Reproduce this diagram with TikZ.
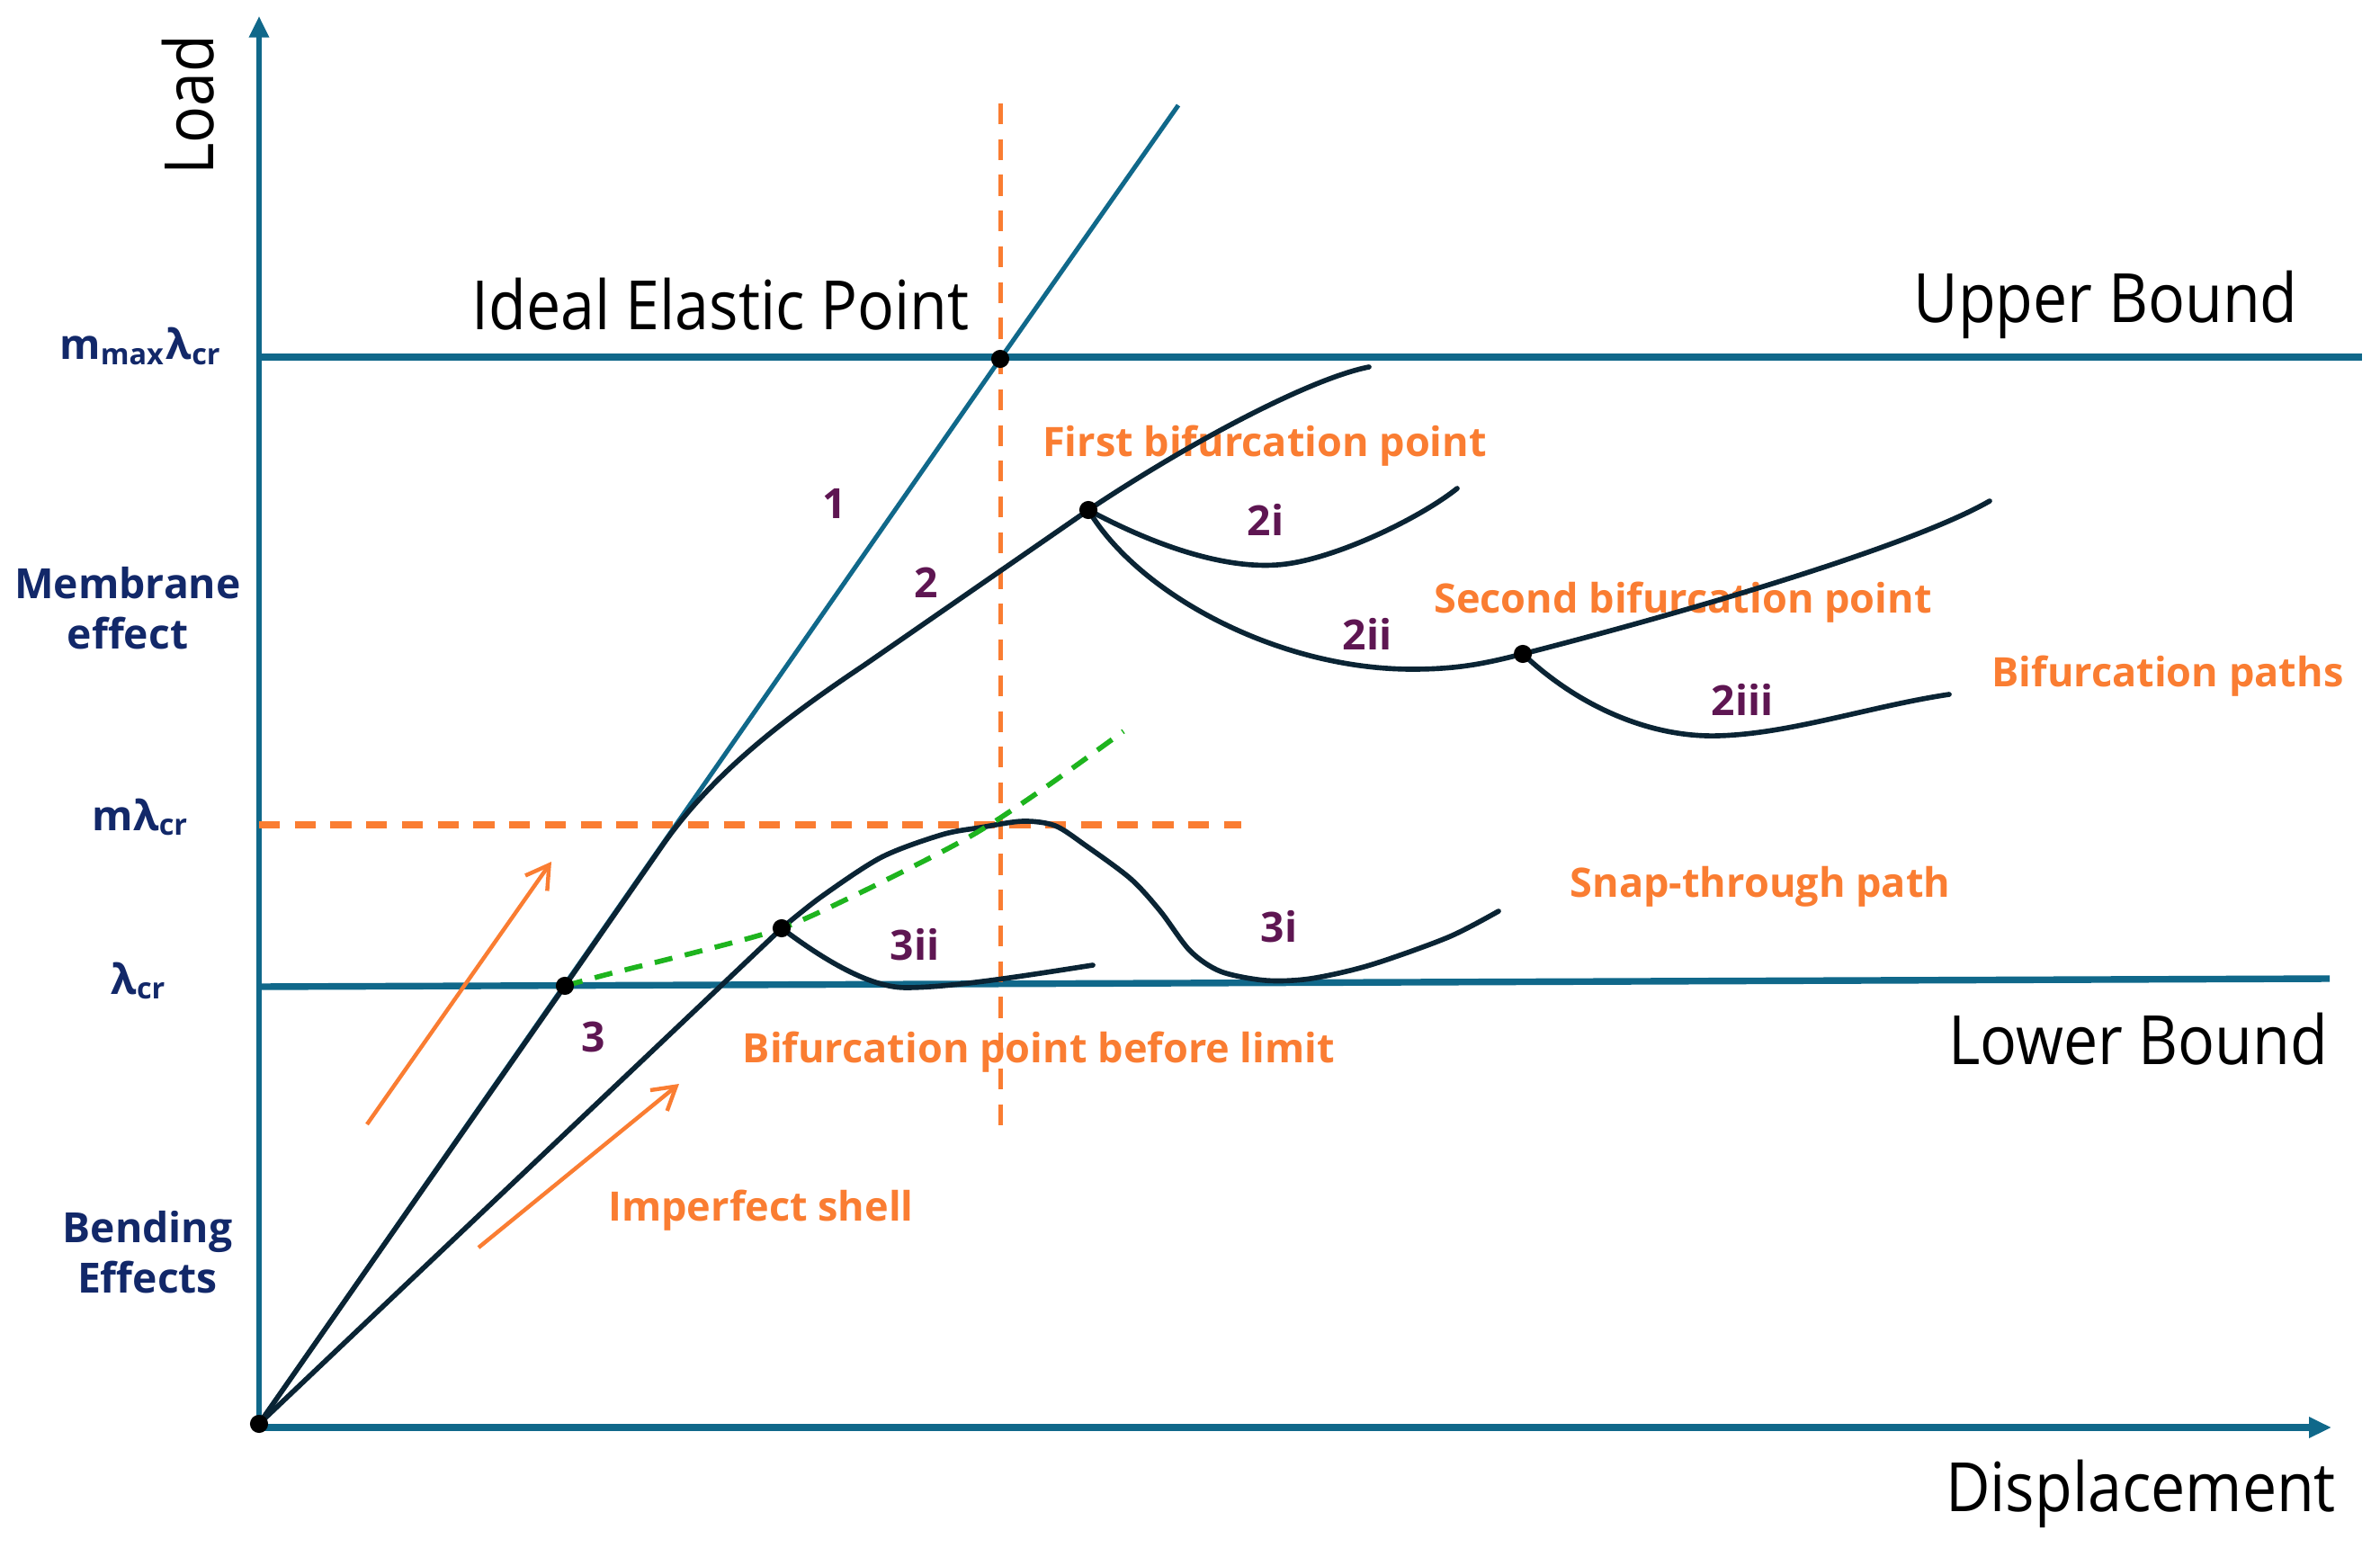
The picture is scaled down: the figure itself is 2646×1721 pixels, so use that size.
\documentclass[tikz,border=0pt]{standalone}
\usepackage{fontspec}
\setmainfont{Open Sans}
\newfontfamily\bigfont[FakeStretch=0.9]{Open Sans}
\usetikzlibrary{arrows.meta}
\definecolor{axisblue}{RGB}{16,104,138}
\definecolor{curvecol}{RGB}{10,36,52}
\definecolor{orng}{RGB}{250,125,50}
\definecolor{navy}{RGB}{18,40,105}
\definecolor{purp}{RGB}{94,22,82}
\definecolor{grn}{RGB}{30,180,30}
\begin{document}
\begin{tikzpicture}[x=0.16861pt,y=-0.16861pt,
  axisline/.style={axisblue,line width=0.9pt},
  boundline/.style={axisblue,line width=1.25pt},
  perfline/.style={axisblue,line width=0.85pt},
  curvestyle/.style={curvecol,line width=0.95pt,line cap=round},
  vdash/.style={orng,line width=0.85pt,dash pattern=on 3.9pt off 2.8pt},
  hdash/.style={orng,line width=1.2pt,dash pattern=on 3.9pt off 2.8pt},
  gdash/.style={grn,line width=0.95pt,dash pattern=on 3.4pt off 2.4pt},
  orarrow/.style={orng,line width=0.75pt,-{Straight Barb[length=4.2pt,width=5pt]}},
  bigtxt/.style={font=\bigfont\fontsize{12.75}{15}\selectfont,text=black,inner sep=0pt},
  orangetxt/.style={font=\bfseries\fontsize{7.6}{9}\selectfont,text=orng,inner sep=0pt},
  navytxt/.style={font=\bfseries\fontsize{7.8}{9.4}\selectfont,text=navy,inner sep=0pt,align=center},
  numtxt/.style={font=\bfseries\fontsize{7.8}{9}\selectfont,text=purp,inner sep=0pt},
  dotstyle/.style={circle,fill=black,inner sep=0pt,minimum size=3.4pt}
]
\useasboundingbox (0,0) rectangle (2646,1721);

% key points
\coordinate (O) at (288,1583);
\coordinate (Ytop) at (288,18);
\coordinate (Xend) at (2592,1587);
\coordinate (Xstart) at (288,1587);
\coordinate (UBl) at (288,397);
\coordinate (UBr) at (2626,397);
\coordinate (LBl) at (288,1097);
\coordinate (LBr) at (2590,1088);
\coordinate (P) at (1112,399);
\coordinate (T1) at (1310,117);
\coordinate (L1) at (628,1096);
\coordinate (L2) at (869,1032);
\coordinate (B1) at (1210,567);
\coordinate (B2) at (1693,727);
\coordinate (Vtop) at (1112,115);
\coordinate (Vbot) at (1112,1252);
\coordinate (Hl) at (288,917);
\coordinate (Hr) at (1380,917);
\coordinate (A1s) at (408,1250);
\coordinate (A1e) at (613,958);
\coordinate (A2s) at (532,1387);
\coordinate (A2e) at (755,1205);

% texts
\node[bigtxt,anchor=base] (ideal) at (801,367) {Ideal Elastic Point};
\node[bigtxt,anchor=base] (upper) at (2341,359) {Upper Bound};
\node[bigtxt,anchor=base] (lower) at (2377,1183) {Lower Bound};
\node[bigtxt,anchor=base] (disp) at (2380,1680) {Displacement};
\node[bigtxt,anchor=base,rotate=90] (load) at (237,117) {Load};

\node[orangetxt,anchor=base] (first) at (1406,508) {First bifurcation point};
\node[orangetxt,anchor=base] (second) at (1871,682) {Second bifurcation point};
\node[orangetxt,anchor=base] (paths) at (2410,764) {Bifurcation paths};
\node[orangetxt,anchor=base] (snap) at (1957,997) {Snap-through path};
\node[orangetxt,anchor=base] (before) at (1155,1181) {Bifurcation point before limit};
\node[orangetxt,anchor=base] (imperf) at (846,1357) {Imperfect shell};

\node[navytxt,anchor=base] (mmax) at (157,400) {m\textsubscript{max}λ\textsubscript{cr}};
\node[navytxt] (membrane) at (142,676) {Membrane\\effect};
\node[navytxt,anchor=base] (mlam) at (157,923) {mλ\textsubscript{cr}};
\node[navytxt,anchor=base] (lam) at (155,1105) {λ\textsubscript{cr}};
\node[navytxt] (bending) at (164,1392) {Bending\\Effects};

\node[numtxt] (n1) at (928,560) {1};
\node[numtxt] (n2) at (1030,648) {2};
\node[numtxt] (n2i) at (1407,578) {2i};
\node[numtxt] (n2ii) at (1520,705) {2ii};
\node[numtxt] (n2iii) at (1937,778) {2iii};
\node[numtxt] (n3) at (660,1153) {3};
\node[numtxt] (n3ii) at (1017,1050) {3ii};
\node[numtxt] (n3i) at (1422,1030) {3i};

% axes and bounds
\draw[axisline,-{Triangle[length=4pt,width=3.6pt]}] (O) -- (Ytop);
\draw[axisblue,line width=1.25pt,-{Triangle[length=4.2pt,width=3.7pt]}] (Xstart) -- (Xend);
\draw[boundline] (UBl) -- (UBr);
\draw[boundline] (LBl) -- (LBr);

% dashed guides
\draw[vdash] (Vtop) -- (Vbot);
\draw[hdash] (Hl) -- (Hr);

% perfect shell line 1
\draw[perfline] (O) -- (P) -- (T1);

% curve 2 and branches
\draw[curvestyle] (O) -- (L1) -- (735,942) .. controls (790,862) and (870,800) .. (960,740) -- (B1);
\draw[curvestyle] (B1) .. controls (1330,487) and (1460,420) .. (1522,408);
\draw[curvestyle] (B1) .. controls (1290,610) and (1370,635) .. (1430,627) .. controls (1490,619) and (1580,575) .. (1620,543);
\draw[curvestyle] (B1) .. controls (1265,660) and (1420,744) .. (1570,744) .. controls (1620,744) and (1650,738) .. (B2) .. controls (1850,687) and (2120,610) .. (2212,557);
\draw[curvestyle] (B2) .. controls (1760,790) and (1840,820) .. (1910,818) .. controls (1990,816) and (2080,785) .. (2167,772);

% imperfect shell
\draw[curvestyle] (O) -- (L2);
\draw[curvestyle] plot[smooth,tension=0.5] coordinates {(L2) (913,997) (980,953) (1047,928) (1090,920) (1137,913) (1173,918) (1207,940) (1257,977) (1290,1013) (1323,1057) (1357,1080) (1407,1090) (1457,1088) (1523,1073) (1610,1042) (1666,1013)};
\draw[curvestyle] (L2) .. controls (900,1055) and (960,1098) .. (1007,1098) .. controls (1060,1098) and (1150,1083) .. (1215,1073);

% green limit curve
\draw[gdash] plot[smooth,tension=0.5] coordinates {(L1) (680,1082) (780,1057) (L2) (947,997) (1047,947) (1100,917) (1167,872) (1249,813)};

% orange arrows
\draw[orarrow] (A1s) -- (A1e);
\draw[orarrow] (A2s) -- (A2e);

% dots
\node[dotstyle] (dO) at (O) {};
\node[dotstyle] (dP) at (P) {};
\node[dotstyle] (dL1) at (L1) {};
\node[dotstyle] (dL2) at (L2) {};
\node[dotstyle] (dB1) at (B1) {};
\node[dotstyle] (dB2) at (B2) {};
\end{tikzpicture}
\end{document}
